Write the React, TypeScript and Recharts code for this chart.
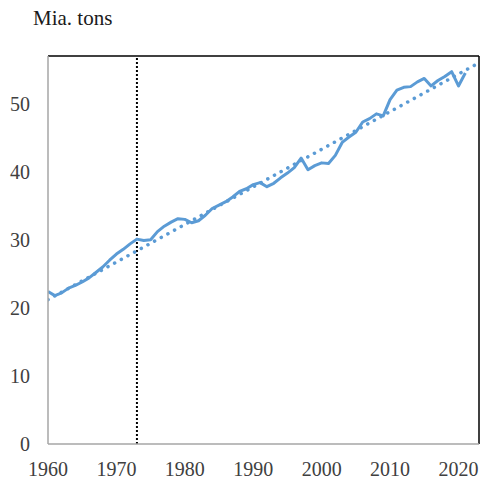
import React from "react";
import { LineChart, Line, XAxis, YAxis, ReferenceLine } from "recharts";

const years = [
  1960, 1961, 1962, 1963, 1964, 1965, 1966, 1967, 1968, 1969,
  1970, 1971, 1972, 1973, 1974, 1975, 1976, 1977, 1978, 1979,
  1980, 1981, 1982, 1983, 1984, 1985, 1986, 1987, 1988, 1989,
  1990, 1991, 1992, 1993, 1994, 1995, 1996, 1997, 1998, 1999,
  2000, 2001, 2002, 2003, 2004, 2005, 2006, 2007, 2008, 2009,
  2010, 2011, 2012, 2013, 2014, 2015, 2016, 2017, 2018, 2019,
  2020, 2021,
];

const production = [
  22.4, 21.8, 22.2, 22.9, 23.3, 23.8, 24.4, 25.2, 26.0, 27.0,
  27.9, 28.6, 29.4, 30.1, 29.9, 30.0, 31.2, 32.0, 32.6, 33.1,
  33.0, 32.5, 32.8, 33.6, 34.6, 35.1, 35.6, 36.3, 37.1, 37.5,
  38.1, 38.4, 37.8, 38.3, 39.1, 39.8, 40.6, 42.0, 40.3, 40.9,
  41.3, 41.2, 42.4, 44.3, 45.1, 45.8, 47.3, 47.8, 48.5, 48.2,
  50.6, 52.0, 52.4, 52.5, 53.2, 53.7, 52.6, 53.4, 54.0, 54.7,
  52.6, 54.5,
];

const trendYears = [1960, 2023];
const trendValues = [21.2, 56.0];

const xTicks = [1960, 1970, 1980, 1990, 2000, 2010, 2020];
const yTicks = [0, 10, 20, 30, 40, 50];
const markerYear = 1973;
const unitLabel = "Mia. tons";

type Row = { year: number; value?: number | null; trend?: number | null };

const data: Row[] = years.map((y, i) => ({ year: y, value: production[i], trend: null }));
trendYears.forEach((ty, i) => {
  const row = data.find((r) => r.year === ty);
  if (row) row.trend = trendValues[i];
  else data.push({ year: ty, value: null, trend: trendValues[i] });
});

const font = "'Liberation Serif', 'Times New Roman', serif";

export default function App() {
  return (
    <div style={{ position: "absolute", left: 0, top: 0, width: 481, height: 482, background: "#fff" }}>
      <div
        style={{
          position: "absolute",
          left: 33,
          top: 6,
          fontFamily: font,
          fontSize: 21,
          color: "#1a1a1a",
          lineHeight: "24px",
        }}
      >
        {unitLabel}
      </div>
      <LineChart
        width={481}
        height={482}
        data={data}
        margin={{ top: 56, right: 2, bottom: 0, left: 0 }}
      >
        <XAxis
          dataKey="year"
          type="number"
          domain={[1960, 2023]}
          ticks={xTicks}
          allowDataOverflow
          tickLine={false}
          axisLine={{ stroke: "#a6a6a6", strokeWidth: 1.5 }}
          tick={{ fill: "#404040", fontSize: 20, fontFamily: font }}
          tickMargin={12}
          height={38}
        />
        <YAxis
          type="number"
          domain={[0, 57]}
          ticks={yTicks}
          allowDataOverflow
          tickLine={false}
          axisLine={{ stroke: "#a6a6a6", strokeWidth: 1.5 }}
          tick={{ fill: "#404040", fontSize: 20, fontFamily: font }}
          tickMargin={12}
          width={48}
        />
        <ReferenceLine y={57} stroke="#000" strokeWidth={1.5} />
        <ReferenceLine x={2023} stroke="#000" strokeWidth={1.5} />
        <ReferenceLine x={markerYear} stroke="#000" strokeWidth={2} strokeDasharray="2 2" />
        <Line
          dataKey="trend"
          stroke="#5B9BD5"
          strokeWidth={3.5}
          strokeDasharray="0.1 7.5"
          strokeLinecap="round"
          dot={false}
          connectNulls
          isAnimationActive={false}
        />
        <Line
          dataKey="value"
          stroke="#5B9BD5"
          strokeWidth={3}
          strokeLinejoin="round"
          dot={false}
          isAnimationActive={false}
        />
      </LineChart>
    </div>
  );
}
